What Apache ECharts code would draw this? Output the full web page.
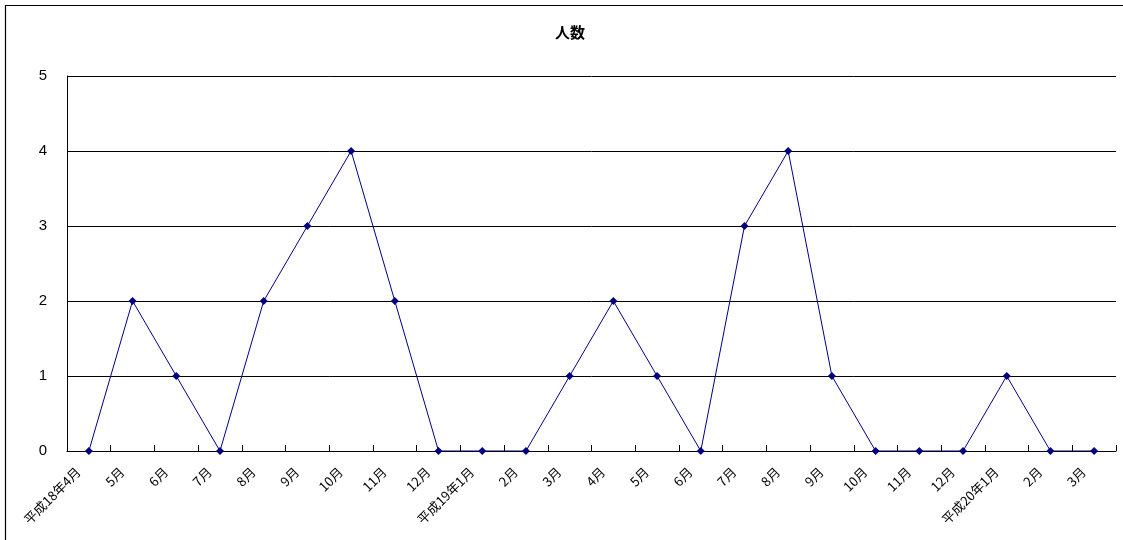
<!DOCTYPE html>
<html>
<head>
<meta charset="utf-8">
<script src="https://cdn.jsdelivr.net/npm/echarts@6/dist/echarts.min.js"></script>
<style>
  html, body { margin: 0; padding: 0; background: #fff; }
  #chart { width: 1123px; height: 540px; }
</style>
</head>
<body>
<div id="chart"></div>
<script>
// Monthly head count, 平成18年4月 through 平成20年3月
const months = [
  '平成18年4月', '5月', '6月', '7月', '8月', '9月', '10月', '11月', '12月',
  '平成19年1月', '2月', '3月', '4月', '5月', '6月', '7月', '8月', '9月', '10月', '11月', '12月',
  '平成20年1月', '2月', '3月'
];
const headcount = [0, 2, 1, 0, 2, 3, 4, 2, 0, 0, 0, 1, 2, 1, 0, 3, 4, 1, 0, 0, 0, 1, 0, 0];
const yTicks = { min: 0, max: 5, interval: 1 };

const jpFont = '"Noto Sans CJK JP", "Noto Sans", sans-serif';
const chart = echarts.init(document.getElementById('chart'), null, { renderer: 'canvas' });

chart.setOption({
  backgroundColor: '#ffffff',
  animation: false,
  graphic: [{
    type: 'rect',
    shape: { x: 5.5, y: 5.5, width: 1130, height: 560 },
    style: { fill: 'none', stroke: '#000', lineWidth: 1.2 },
    silent: true
  }],
  title: {
    text: '人数',
    left: 565,
    textAlign: 'center',
    top: 20,
    textStyle: { fontFamily: jpFont, fontSize: 15, fontWeight: 'bold', color: '#000' }
  },
  grid: { left: 67, right: 7, top: 76, bottom: 89, containLabel: false },
  xAxis: {
    type: 'category',
    data: months,
    boundaryGap: true,
    axisLine: { lineStyle: { color: '#000', width: 1 } },
    axisTick: { show: true, inside: true, length: 6, lineStyle: { color: '#000' } },
    axisLabel: {
      interval: 0,
      rotate: 45,
      margin: 8,
      padding: [0, 15, 0, 0],
      fontFamily: jpFont,
      fontSize: 13,
      color: '#000'
    },
    splitLine: { show: false }
  },
  yAxis: {
    type: 'value',
    min: yTicks.min,
    max: yTicks.max,
    interval: yTicks.interval,
    axisLine: { show: true, lineStyle: { color: '#000', width: 1 } },
    axisTick: { show: false },
    axisLabel: { margin: 20, fontFamily: 'Arial, "Liberation Sans", sans-serif', fontSize: 15, color: '#000' },
    splitLine: { show: true, lineStyle: { color: '#000', width: 1 } }
  },
  series: [{
    name: '人数',
    type: 'line',
    data: headcount,
    symbol: 'diamond',
    symbolSize: 8,
    lineStyle: { color: '#000080', width: 1 },
    itemStyle: { color: '#000080' }
  }]
});
</script>
</body>
</html>
